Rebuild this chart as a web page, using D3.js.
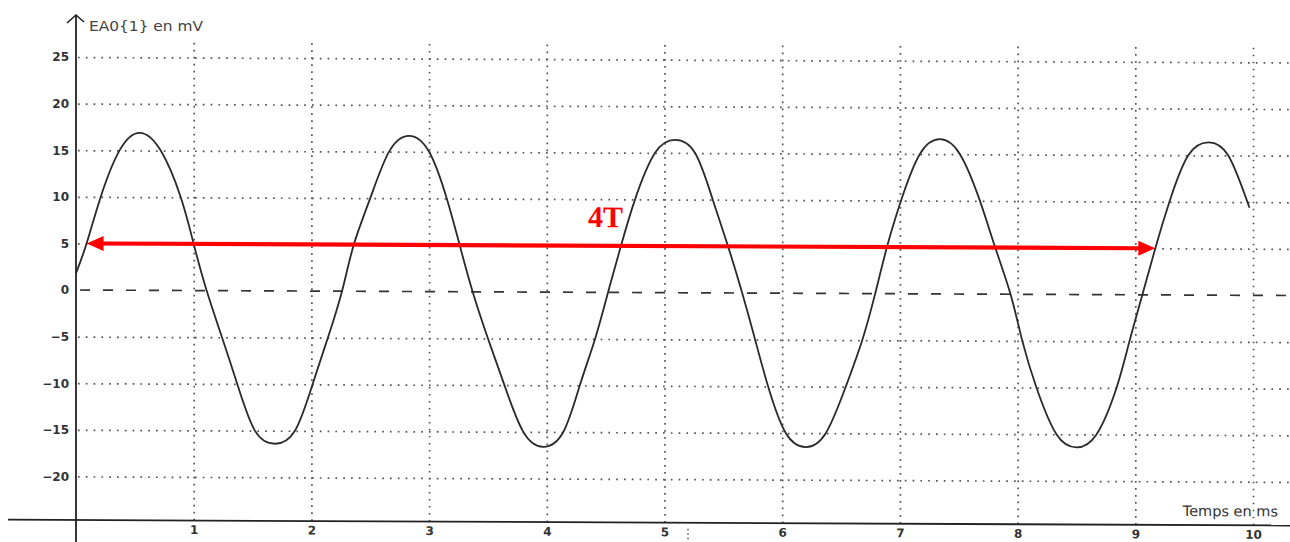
<!DOCTYPE html>
<html>
<head>
<meta charset="utf-8">
<script src="https://cdn.jsdelivr.net/npm/d3@7"></script>
<style>
    html, body { margin: 0; padding: 0; background: #fff; }
    svg { display: block; }
</style>
</head>
<body>
<svg id="chart"></svg>
<script>
// values (time in ms, voltage in mV)
const timeMs = [0, 0.09, 0.21, 0.37, 0.54, 0.72, 0.89, 1.00, 1.11, 1.24, 1.37, 1.52, 1.69, 1.86,
    2.01, 2.14, 2.26, 2.36, 2.50, 2.66, 2.83, 3.00, 3.15, 3.26, 3.37, 3.50, 3.64, 3.80, 3.97, 4.14,
    4.28, 4.41, 4.52, 4.63, 4.75, 4.92, 5.09, 5.26, 5.41, 5.54, 5.66, 5.77, 5.88, 6.03, 6.20, 6.37,
    6.54, 6.68, 6.79, 6.89, 7.01, 7.17, 7.34, 7.51, 7.68, 7.81, 7.94, 8.04, 8.16, 8.33, 8.50, 8.67,
    8.84, 8.95, 9.06, 9.17, 9.29, 9.45, 9.62, 9.79, 9.97];
const voltageMv = [1.8, 5, 10, 15, 16.9, 15, 10, 5, 0, -5, -10, -15, -16.4, -15,
    -10, -5, 0, 5, 10, 15, 16.7, 15, 10, 5, 0, -5, -10, -15, -16.6, -15,
    -10, -5, 0, 5, 10, 15, 16.4, 15, 10, 5, 0, -5, -10, -15, -16.5, -15,
    -10, -5, 0, 5, 10, 15, 16.6, 15, 10, 5, 0, -5, -10, -15, -16.4, -15,
    -10, -5, 0, 5, 10, 15, 16.4, 15, 9.4];
const xTicks = [1, 2, 3, 4, 5, 6, 7, 8, 9, 10];
const yTicks = [25, 20, 15, 10, 5, 0, -5, -10, -15, -20];
const arrowFrom = [0.09, 5];
const arrowTo = [9.17, 5];
const arrowLabel = '4T';

const W = 1290, H = 542;
const x0 = 76, yAxisBottom = 520;
const skew = 0.26; // the scan is slightly sheared

const x = d3.scaleLinear().domain([0, 10]).range([x0, 1253]);
const y = d3.scaleLinear().domain([0, 25]).range([290, 57]);

const svg = d3.select('#chart').attr('width', W).attr('height', H);
svg.append('rect').attr('width', W).attr('height', H).attr('fill', '#fff');

const g = svg.append('g')
    .attr('transform', `translate(${x0},290) skewY(${skew}) translate(${-x0},-290)`);

// horizontal dotted grid (0 gets the dashed line)
g.append('g')
    .attr('transform', `translate(${x0 + 2},0)`)
    .call(d3.axisLeft(y).tickValues(yTicks.filter(d => d !== 0)).tickSize(-(W - x0 - 2)).tickFormat(''))
    .call(a => a.select('.domain').remove())
    .call(a => a.selectAll('.tick line')
        .attr('stroke', '#555')
        .attr('stroke-width', 1.7)
        .attr('stroke-dasharray', '1.7,6.1'));

// vertical dotted grid
g.append('g')
    .attr('transform', `translate(0,${yAxisBottom})`)
    .call(d3.axisBottom(x).tickValues(xTicks).tickSize(-(yAxisBottom - 40)).tickFormat(''))
    .call(a => a.select('.domain').remove())
    .call(a => a.selectAll('.tick line')
        .attr('stroke', '#555')
        .attr('stroke-width', 1.7)
        .attr('stroke-dasharray', '1.7,5.3'));

// zero reference, dashed
g.append('line')
    .attr('x1', x0 + 4).attr('x2', W)
    .attr('y1', y(0)).attr('y2', y(0))
    .attr('stroke', '#333')
    .attr('stroke-width', 1.7)
    .attr('stroke-dasharray', '10,13');

// time axis
g.append('line')
    .attr('x1', 8).attr('x2', W)
    .attr('y1', yAxisBottom).attr('y2', yAxisBottom)
    .attr('stroke', '#222')
    .attr('stroke-width', 1.8);

// little cursor mark under the axis near 5 ms
g.append('line')
    .attr('x1', x(5.2)).attr('x2', x(5.2))
    .attr('y1', yAxisBottom + 6).attr('y2', H)
    .attr('stroke', '#555')
    .attr('stroke-width', 1.5)
    .attr('stroke-dasharray', '1.5,3');

g.append('g')
    .attr('transform', `translate(0,${yAxisBottom})`)
    .call(d3.axisBottom(x).tickValues(xTicks).tickSize(0).tickPadding(5).tickFormat(d3.format('d')))
    .call(a => a.select('.domain').remove())
    .call(a => a.selectAll('text')
        .attr('fill', '#333')
        .attr('font-family', 'DejaVu Sans, sans-serif')
        .attr('font-weight', 'bold')
        .attr('font-size', 12));

g.append('text')
    .attr('x', 1278)
    .attr('y', 511)
    .attr('text-anchor', 'end')
    .attr('fill', '#333')
    .attr('font-family', 'DejaVu Sans, sans-serif')
    .attr('font-size', 14.5)
    .text('Temps en ms');

// signal
const line = d3.line()
    .x((d, i) => x(timeMs[i]))
    .y(d => y(d))
    .curve(d3.curveNatural);

g.append('path')
    .datum(voltageMv)
    .attr('d', line)
    .attr('fill', 'none')
    .attr('stroke', '#2a2a2a')
    .attr('stroke-width', 1.8);

// red 4T arrow
const ax1 = x(arrowFrom[0]), ay1 = y(arrowFrom[1]);
const ax2 = x(arrowTo[0]), ay2 = y(arrowTo[1]);
const headL = 17, headW = 7.5;
g.append('line')
    .attr('x1', ax1 + headL - 2).attr('x2', ax2 - headL + 2)
    .attr('y1', ay1).attr('y2', ay2)
    .attr('stroke', '#ff0000')
    .attr('stroke-width', 4.2);
g.append('path')
    .attr('d', `M${ax1},${ay1} L${ax1 + headL},${ay1 - headW} L${ax1 + headL},${ay1 + headW} Z`)
    .attr('fill', '#ff0000');
g.append('path')
    .attr('d', `M${ax2},${ay2} L${ax2 - headL},${ay2 - headW} L${ax2 - headL},${ay2 + headW} Z`)
    .attr('fill', '#ff0000');

g.append('text')
    .attr('x', x(4.35))
    .attr('y', y(7.0))
    .attr('fill', '#ff0000')
    .attr('font-family', 'Liberation Serif, Times New Roman, serif')
    .attr('font-weight', 'bold')
    .attr('font-size', 30)
    .text(arrowLabel);

// voltage axis with open arrow tip
svg.append('line')
    .attr('x1', x0).attr('x2', x0)
    .attr('y1', 15).attr('y2', H)
    .attr('stroke', '#222')
    .attr('stroke-width', 1.8);
svg.append('path')
    .attr('d', `M${x0 - 9},${23} L${x0},${15} L${x0 + 8},${22}`)
    .attr('fill', 'none')
    .attr('stroke', '#222')
    .attr('stroke-width', 1.6);

svg.append('g')
    .attr('transform', `translate(${x0},0)`)
    .call(d3.axisLeft(y).tickValues(yTicks).tickSize(0).tickPadding(7).tickFormat(d3.format('d')))
    .call(a => a.select('.domain').remove())
    .call(a => a.selectAll('text')
        .attr('fill', '#333')
        .attr('font-family', 'DejaVu Sans, sans-serif')
        .attr('font-weight', 'bold')
        .attr('font-size', 12));

svg.append('text')
    .attr('x', 89)
    .attr('y', 31)
    .attr('fill', '#444')
    .attr('font-family', 'DejaVu Sans, sans-serif')
    .attr('font-size', 14)
    .attr('textLength', 114)
    .attr('lengthAdjust', 'spacingAndGlyphs')
    .text('EA0{1} en mV');
</script>
</body>
</html>
